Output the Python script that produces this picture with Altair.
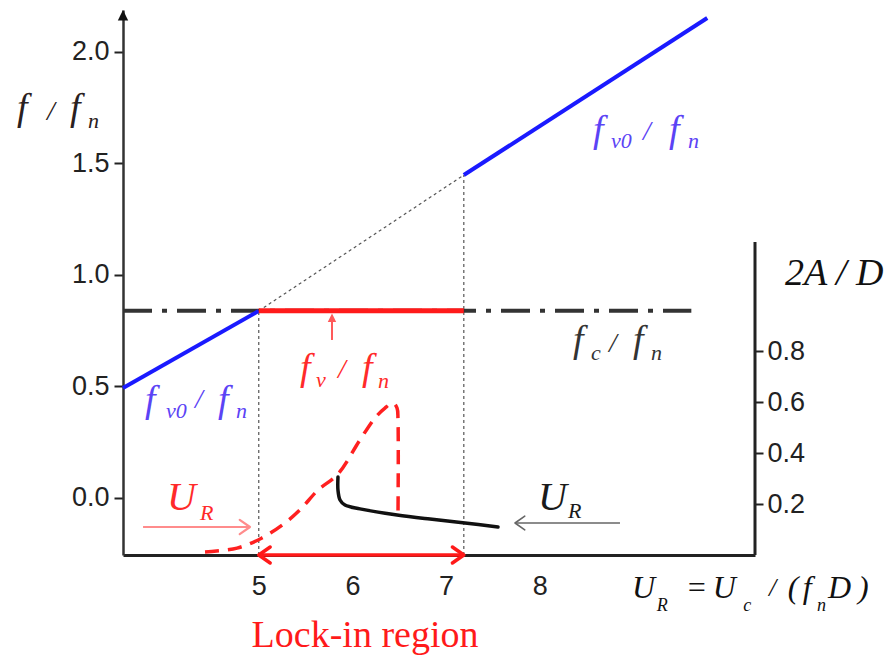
import altair as alt
import pandas as pd

# ---------------- data ----------------
X_DOMAIN = [3.55, 10.3]          # reduced velocity U_R
F_DOMAIN = [-0.2556, 2.188]      # f / f_n (left axis)
A_DOMAIN = [0.0, 2.14]           # 2A / D (right axis)

x_ticks = [5, 6, 7, 8]
f_ticks = [0.0, 0.5, 1.0, 1.5, 2.0]
a_ticks = [0.2, 0.4, 0.6, 0.8]

lock_lo, lock_hi = 5.0, 7.19
fc_level = 0.839
fc_end = 9.62

# natural shedding frequency f_v0/f_n (outside lock-in)
fv0_x1 = [3.55, 7.19]
fv0_y1 = [0.493, 1.448]
fv0_x2 = [5.0, 9.79]
fv0_y2 = [0.839, 2.152]

# amplitude 2A/D, increasing-velocity branch (dashed red)
up_x = [4.426, 4.768, 5.034, 5.280, 5.440, 5.633, 5.846, 6.081, 6.241, 6.348, 6.434, 6.477, 6.487, 6.487]
up_a = [0.012, 0.027, 0.067, 0.126, 0.177, 0.255, 0.318, 0.452, 0.538, 0.577, 0.597, 0.577, 0.530, 0.157]
# amplitude 2A/D, decreasing-velocity branch (solid black)
dn_x = [5.846, 5.846, 5.868, 5.921, 6.081, 6.477, 6.829, 7.203, 7.555]
dn_a = [0.306, 0.255, 0.216, 0.196, 0.181, 0.157, 0.141, 0.126, 0.110]

right_axis_top = 1.229

# ---------------- frames ----------------
def seg(x1, y1, x2, y2):
    return pd.DataFrame({"x": x1, "y": y1, "x2": x2, "y2": y2})

blue_df = seg(fv0_x1, fv0_y1, fv0_x2, fv0_y2)
dotted_df = seg([lock_lo, lock_hi, lock_lo], [F_DOMAIN[0], F_DOMAIN[0], fc_level],
                [lock_lo, lock_hi, lock_hi], [fc_level, fv0_y1[1], fv0_y1[1]])
fc_df = seg([X_DOMAIN[0]], [fc_level], [fc_end], [fc_level])
lock_df = seg([lock_lo], [fc_level], [lock_hi], [fc_level])

# arrow shafts
pink_df = seg([3.764], [-0.130], [4.906], [-0.130])
gray_df = seg([8.858], [-0.112], [7.737], [-0.112])
up_df = seg([5.782], [0.7085], [5.782], [0.815])
range_df = seg([lock_lo], [F_DOMAIN[0]], [lock_hi], [F_DOMAIN[0]])

R_CHEV = "M-1,-0.7L0,0L-1,0.7"
L_CHEV = "M1,-0.7L0,0L1,0.7"
heads_df = pd.DataFrame({
    "x": [4.906, 7.737, lock_lo, lock_hi],
    "y": [-0.130, -0.112, F_DOMAIN[0], F_DOMAIN[0]],
    "shape": [R_CHEV, L_CHEV, L_CHEV, R_CHEV],
    "c": ["#ff8c8c", "#666666", "#ff1a1a", "#ff1a1a"],
    "s": [420, 380, 520, 520],
    "w": [2.2, 1.6, 3.5, 3.5],
})
tri_df = pd.DataFrame({
    "x": [5.782, X_DOMAIN[0]],
    "y": [0.827, F_DOMAIN[1]],
    "shape": ["M0,0L-0.6,1.2L0.6,1.2Z", "M0,0L-0.6,1.2L0.6,1.2Z"],
    "c": ["#ff5a5a", "#111111"],
    "s": [200, 300],
})

up_df_line = pd.DataFrame({"x": up_x, "a": up_a, "i": range(len(up_x))})
dn_df_line = pd.DataFrame({"x": dn_x, "a": dn_a, "i": range(len(dn_x))})
raxis_df = pd.DataFrame({"x": [X_DOMAIN[1]], "a": [0.0], "a2": [right_axis_top]})

# annotation pieces: (text, x, y, kind)
SIZES = {"m": 38, "b": 22, "s": 28, "M": 40, "t": 32, "tb": 18, "ts": 26}
groups = [
    ("#2a2020", [("f", 2.418, 1.695, "m"), ("/", 2.738, 1.695, "s"), ("f", 2.984, 1.695, "m"), ("n", 3.176, 1.659, "b")]),
    ("#5b43f5", [("f", 8.570, 1.596, "m"), ("v0", 8.762, 1.569, "b"), ("/", 9.104, 1.605, "s"), ("f", 9.381, 1.596, "m"), ("n", 9.584, 1.569, "b")]),
    ("#5b43f5", [("f", 3.785, 0.386, "m"), ("v0", 4.009, 0.359, "b"), ("/", 4.319, 0.4035, "s"), ("f", 4.565, 0.386, "m"), ("n", 4.757, 0.359, "b")]),
    ("#333333", [("f", 8.356, 0.655, "m"), ("c", 8.548, 0.619, "b"), ("/", 8.740, 0.655, "s"), ("f", 8.997, 0.655, "m"), ("n", 9.189, 0.619, "b")]),
    ("#ff2a2a", [("f", 5.440, 0.529, "m"), ("v", 5.611, 0.498, "b"), ("/", 5.846, 0.538, "s"), ("f", 6.103, 0.529, "m"), ("n", 6.273, 0.493, "b")]),
    ("#ff2a2a", [("U", 4.020, -0.054, "M"), ("R", 4.372, -0.099, "b")]),
    ("#1a1a1a", [("U", 7.982, -0.054, "M"), ("R", 8.303, -0.090, "b")]),
    ("#111111", [("2A / D", 10.620, 0.955, "m")]),
    ("#111111", [("U", 8.986, -0.448, "t"), ("R", 9.250, -0.507, "tb"), ("=", 9.560, -0.448, "t"),
                 ("U", 9.850, -0.448, "t"), ("c", 10.175, -0.507, "tb"), ("/", 10.450, -0.439, "ts"),
                 ("(", 10.650, -0.448, "t"), ("f", 10.810, -0.448, "t"), ("n", 10.963, -0.507, "tb"),
                 ("D", 11.080, -0.448, "t"), (")", 11.400, -0.448, "t")]),
]
rows = []
for col, pieces in groups:
    for t, x, y, k in pieces:
        rows.append({"t": t, "x": x, "y": y, "s": SIZES[k], "c": col})
ann_df = pd.DataFrame(rows)
lock_txt_df = pd.DataFrame({"t": ["Lock-in region"], "x": [6.135], "y": [-0.668]})

# ---------------- encodings ----------------
FONT = "Liberation Sans"
x_axis = alt.Axis(values=x_ticks, format="d", ticks=False, labelFontSize=27, labelFont=FONT,
                  labelColor="#222", labelPadding=18, domainColor="#222", domainWidth=3,
                  grid=False, title=None)
y_axis = alt.Axis(values=f_ticks, format=".1f", tickSize=9, tickWidth=2, tickColor="#222",
                  labelFontSize=27, labelFont=FONT, labelColor="#222", labelPadding=5,
                  domainColor="#333", domainWidth=2.5, grid=False, title=None)
a_axis = alt.Axis(orient="right", values=a_ticks, format=".1f", domain=False, tickSize=8,
                  tickWidth=2, tickColor="#222", labelFontSize=27, labelFont=FONT,
                  labelColor="#222", labelPadding=4, grid=False, title=None)

xs = alt.Scale(domain=X_DOMAIN, nice=False, zero=False)
ys = alt.Scale(domain=F_DOMAIN, nice=False, zero=False)
as_ = alt.Scale(domain=A_DOMAIN, nice=False, zero=False)

X = alt.X("x:Q", scale=xs, axis=x_axis)
Y = alt.Y("y:Q", scale=ys, axis=y_axis)
X2 = alt.X2("x2:Q")
Y2 = alt.Y2("y2:Q")


def rule(df, **kw):
    return alt.Chart(df).mark_rule(**kw).encode(x=X, y=Y, x2=X2, y2=Y2)


left = alt.layer(
    rule(dotted_df, color="#555", strokeWidth=1.2, strokeDash=[3, 3]),
    rule(fc_df, color="#333", strokeWidth=4, strokeDash=[29, 10, 5, 10]),
    rule(blue_df, color="#1a1aff", strokeWidth=4),
    rule(lock_df, color="#ff1a1a", strokeWidth=5),
    rule(pink_df, color="#ff8c8c", strokeWidth=2.2),
    rule(gray_df, color="#666", strokeWidth=1.6),
    rule(up_df, color="#ff5a5a", strokeWidth=2),
    rule(range_df, color="#ff1a1a", strokeWidth=3.5),
    alt.Chart(heads_df).mark_point(filled=False, opacity=1, strokeCap="round", strokeJoin="round").encode(
        x=X, y=Y,
        shape=alt.Shape("shape:N", scale=None),
        color=alt.Color("c:N", scale=None),
        size=alt.Size("s:Q", scale=None),
        strokeWidth=alt.StrokeWidth("w:Q", scale=None),
    ),
    alt.Chart(tri_df).mark_point(filled=True, opacity=1).encode(
        x=X, y=Y,
        shape=alt.Shape("shape:N", scale=None),
        color=alt.Color("c:N", scale=None),
        size=alt.Size("s:Q", scale=None),
    ),
    alt.Chart(ann_df).mark_text(font="Liberation Serif", fontStyle="italic", align="left",
                                baseline="alphabetic").encode(
        x=X, y=Y, text="t:N",
        size=alt.Size("s:Q", scale=None),
        color=alt.Color("c:N", scale=None),
    ),
    alt.Chart(lock_txt_df).mark_text(font="Liberation Serif", fontSize=38, color="#ff1a1a",
                                     align="center", baseline="alphabetic").encode(
        x=X, y=Y, text="t:N"),
)

A = alt.Y("a:Q", scale=as_, axis=a_axis)
right = alt.layer(
    alt.Chart(up_df_line).mark_line(color="#ff2020", strokeWidth=3.5, strokeDash=[14, 9],
                                    interpolate="catmull-rom").encode(x=X, y=A, order="i:Q"),
    alt.Chart(dn_df_line).mark_line(color="#111", strokeWidth=3.5, strokeCap="round",
                                    interpolate="catmull-rom").encode(x=X, y=A, order="i:Q"),
    alt.Chart(raxis_df).mark_rule(color="#222", strokeWidth=3).encode(
        x=X, y=A, y2=alt.Y2("a2:Q")),
)

chart = alt.layer(left, right).resolve_scale(y="independent").properties(
    width=632, height=545,
    autosize=alt.AutoSizeParams(type="none"),
    padding={"left": 123, "top": 10, "right": 134, "bottom": 104},
    background="white",
).configure_view(stroke=None)

chart.save("out.html", embed_options={"renderer": "svg", "actions": False})
